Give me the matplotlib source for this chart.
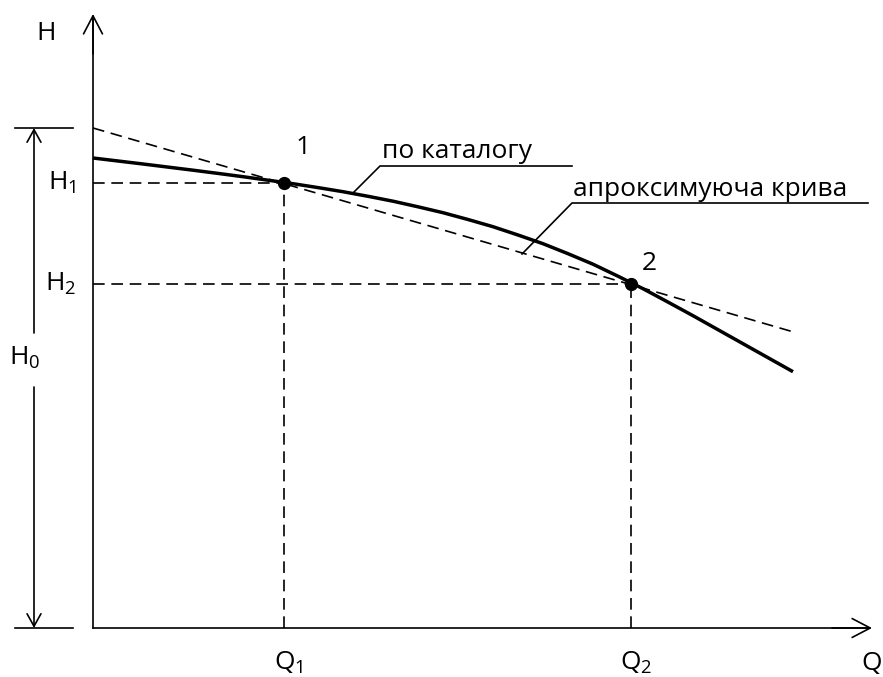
"""
Характеристика насоса H(Q): крива за каталогом і апроксимуюча пряма
"""
import matplotlib
matplotlib.use('Agg')
import matplotlib.pyplot as plt

plt.rcParams.update({
    'font.family': ['Open Sans', 'DejaVu Sans'],
    'mathtext.fontset': 'custom',
    'mathtext.rm': 'Open Sans',
    'mathtext.it': 'Open Sans:italic',
    'font.size': 19,
})

# ---- дані (умовні одиниці) ----
q_catalog = [0, 25, 50, 75, 100, 125, 150, 175, 200, 225, 250, 275, 300, 325,
             350, 375, 400, 425, 450, 475, 500, 525, 550, 575, 600, 625, 650,
             675, 700]
h_catalog = [470, 467, 464, 460.9, 457.8, 454.6, 451.3, 447.8, 444.3, 440.4,
             436.3, 431.7, 426.8, 421.2, 415.3, 408.5, 401.3, 393.0, 384.3,
             374.3, 363.8, 351.8, 339.3, 325.9, 312.3, 298.3, 284.3, 270.3,
             256.3]

Q1, H1 = 191, 445
Q2, H2 = 538, 344
H0 = 500
q_approx = [0, 704]
h_approx = [H0, 295]

Q_MAX, H_MAX = 779, 614

fig = plt.figure(figsize=(8.83, 6.77), dpi=100)
ax = fig.add_axes([0, 0, 1, 1])
ax.set_xlim(-93, 790)
ax.set_ylim(-49, 628)
ax.axis('off')

thin = 1.2
dash = (0, (7, 4))

# ---- осі ----
ax.plot([0, 0], [0, H_MAX - 5], color='black', lw=thin)
ax.plot([0, Q_MAX - 5], [0, 0], color='black', lw=thin)
arrow = dict(arrowstyle='->,head_length=13,head_width=6.8', lw=thin,
             color='black', shrinkA=0, shrinkB=0, mutation_scale=1)
ax.annotate('', xy=(0, H_MAX), xytext=(0, H_MAX - 40), arrowprops=arrow)
ax.annotate('', xy=(Q_MAX, 0), xytext=(Q_MAX - 40, 0), arrowprops=arrow)
ax.text(-47, 595, 'H', ha='center', va='center')
ax.text(Q_MAX, -35, 'Q', ha='center', va='center')

# ---- розмір H0 ----
dim_x = -59
ax.plot([-78, -20], [H0, H0], color='black', lw=thin)
ax.plot([-78, -20], [0, 0], color='black', lw=thin)
dim_arrow = dict(arrowstyle='->,head_length=9,head_width=5', lw=thin,
                 color='black', shrinkA=0, shrinkB=0, mutation_scale=1)
ax.annotate('', xy=(dim_x, H0), xytext=(dim_x, 295), arrowprops=dim_arrow)
ax.annotate('', xy=(dim_x, 0), xytext=(dim_x, 241), arrowprops=dim_arrow)
ax.text(-68, 270, 'H$_0$', ha='center', va='center')

# ---- допоміжні пунктири ----
ax.plot([0, Q1], [H1, H1], color='black', lw=thin, linestyle=dash)
ax.plot([0, Q2], [H2, H2], color='black', lw=thin, linestyle=dash)
ax.plot([Q1, Q1], [0, H1], color='black', lw=thin, linestyle=dash)
ax.plot([Q2, Q2], [0, H2], color='black', lw=thin, linestyle=dash)

# ---- апроксимуюча пряма та крива за каталогом ----
ax.plot(q_approx, h_approx, color='black', lw=thin, linestyle=dash)
ax.plot(q_catalog, h_catalog, color='black', lw=2.5, solid_capstyle='butt',
        solid_joinstyle='round')
ax.plot([Q1, Q2], [H1, H2], 'o', color='black', markersize=8.5)

ax.text(-17, H1, 'H$_1$', ha='right', va='center')
ax.text(-17, H2, 'H$_2$', ha='right', va='center')
ax.text(Q1 + 5, -35, 'Q$_1$', ha='center', va='center')
ax.text(Q2 + 5, -35, 'Q$_2$', ha='center', va='center')
ax.text(Q1 + 19, H1 + 35, '1', ha='center', va='center')
ax.text(Q2 + 18, H2 + 21, '2', ha='center', va='center')

# ---- виноски ----
ax.text(289, 470, 'по каталогу', ha='left', va='baseline')
ax.plot([260, 287, 479], [435, 462, 462], color='black', lw=thin)
ax.text(480, 432, 'апроксимуюча крива', ha='left', va='baseline')
ax.plot([429, 479, 775], [374, 425, 425], color='black', lw=thin)

plt.savefig('out.png', dpi=100)
plt.close()
